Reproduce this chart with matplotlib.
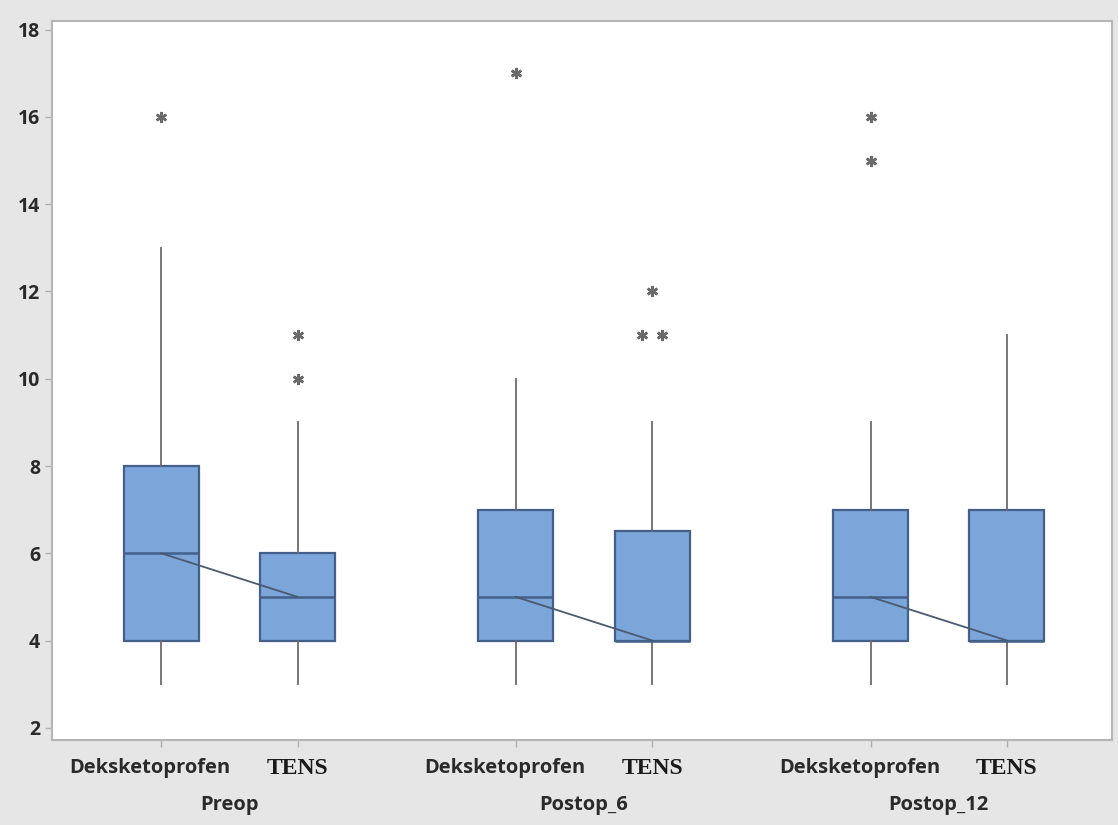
import numpy as np
import matplotlib.pyplot as plt

groups = ['Preop', 'Postop_6', 'Postop_12']
treatments = ['Deksketoprofen', 'TENS']

# box stats, order: Preop Dek, Preop TENS, Postop_6 Dek, ...
q1 = [4, 4, 4, 4, 4, 4]
med = [6, 5, 5, 4, 5, 4]
q3 = [8, 6, 7, 6.5, 7, 7]
whislo = [3, 3, 3, 3, 3, 3]
whishi = [13, 9, 10, 9, 9, 11]
fliers = [[16], [10, 11], [17], [11, 11, 12], [15, 16], []]

positions = [0, 1, 2.6, 3.6, 5.2, 6.2]

stats = []
for i in range(6):
    stats.append(dict(q1=q1[i], med=med[i], q3=q3[i], whislo=whislo[i],
                      whishi=whishi[i], fliers=[]))

fig = plt.figure(figsize=(11.18, 8.25), dpi=100, facecolor='#e6e6e6')
ax = fig.add_axes([52 / 1118, 1 - 740 / 825, 1060 / 1118, 719 / 825])
ax.set_facecolor('white')

box_col = '#7ca5d9'
edge_col = '#44608a'
ax.bxp(stats, positions=positions, widths=0.55, patch_artist=True,
       showcaps=False,
       boxprops=dict(facecolor=box_col, edgecolor=edge_col, linewidth=1.6),
       medianprops=dict(color=edge_col, linewidth=1.8),
       whiskerprops=dict(color='#6b6b6b', linewidth=1.3))

# outliers as asterisks; duplicates spread sideways
for pos, fl in zip(positions, fliers):
    vals, counts = np.unique(fl, return_counts=True)
    for v, c in zip(vals, counts):
        offs = (np.arange(c) - (c - 1) / 2) * 0.15
        ax.plot(pos + offs, [v] * c, linestyle='none', marker=(6, 2, 0),
                markersize=8, markeredgewidth=1.8, color='#6a6a6a')

# line connecting medians within each group
for g in range(3):
    ax.plot(positions[2 * g:2 * g + 2], med[2 * g:2 * g + 2],
            color='#4a5a70', linewidth=1.3, zorder=5)

ax.set_xlim(-0.8, 6.97)
ax.set_ylim(1.72, 18.2)
ax.set_yticks(range(2, 19, 2))
ax.set_xticks(positions)
ax.set_xticklabels([])

for s in ax.spines.values():
    s.set_color('#b5b5b5')
    s.set_linewidth(1.5)

ax.tick_params(axis='both', colors='#b0b0b0', length=5, width=1)
for lab in ax.get_yticklabels():
    lab.set_color('#2a2a2a')
    lab.set_fontsize(14)
    lab.set_fontweight('bold')
    lab.set_family('Open Sans')

xt = ax.get_xaxis_transform()
for i, pos in enumerate(positions):
    t = treatments[i % 2]
    if t == 'TENS':
        ax.text(pos, -0.047, t, transform=xt, ha='center', va='baseline',
                fontsize=17, fontweight='bold', family='Liberation Serif',
                color='#1a1a1a')
    else:
        ax.text(pos - 0.08, -0.046, t, transform=xt, ha='center', va='baseline',
                fontsize=14.5, fontweight='bold', family='Open Sans',
                color='#2a2a2a')

for g in range(3):
    c = (positions[2 * g] + positions[2 * g + 1]) / 2
    ax.text(c, -0.097, groups[g], transform=xt, ha='center', va='baseline',
            fontsize=14.5, fontweight='bold', family='Open Sans',
            color='#2a2a2a')

fig.savefig('out.png', dpi=100, facecolor=fig.get_facecolor())
